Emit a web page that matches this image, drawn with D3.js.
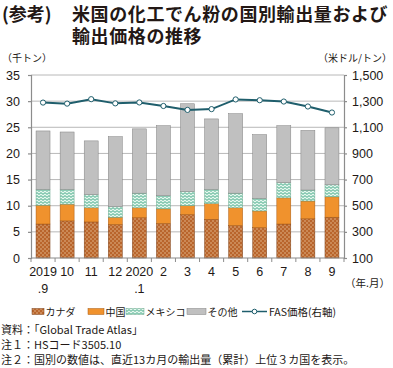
<!DOCTYPE html>
<html><head><meta charset="utf-8">
<script src="https://cdn.jsdelivr.net/npm/d3@7"></script>
<style>
body{margin:0;background:#fff;}
svg{display:block;font-family:"Noto Sans CJK JP","Noto Sans",sans-serif;}
</style></head>
<body><svg id="c" width="393" height="368"></svg>
<script>
const months = ["2019\n.9","10","11","12","2020\n.1","2","3","4","5","6","7","8","9"];
const canada = [6.5,7.1,6.9,6.4,7.7,6.6,8.3,7.4,6.2,5.8,6.5,7.5,7.8];
const china  = [3.6,3.2,2.7,1.4,1.9,2.8,1.7,3.0,3.4,3.2,5.0,3.4,3.9];
const mexico = [3.0,2.8,2.5,2.0,2.8,2.5,2.7,2.7,2.8,2.4,2.9,2.1,2.3];
const other  = [11.2,11.0,10.3,13.4,12.3,13.4,16.8,13.5,15.2,12.2,10.9,11.4,10.9];
const price  = [1289,1281,1315,1283,1290,1263,1233,1239,1313,1307,1297,1259,1213];
const leftTicks = [0,5,10,15,20,25,30,35];
const rightTicks = [100,300,500,700,900,1100,1300,1500];
const seriesNames = ["カナダ","中国","メキシコ","その他"];

const svg = d3.select("#c");
const defs = svg.append("defs");
const pc = defs.append("pattern").attr("id","pCan").attr("patternUnits","userSpaceOnUse").attr("width",4).attr("height",4);
pc.append("rect").attr("width",4).attr("height",4).attr("fill","#b9652c");
pc.append("circle").attr("cx",1).attr("cy",1).attr("r",0.7).attr("fill","#ecc9a0");
pc.append("circle").attr("cx",3).attr("cy",3).attr("r",0.7).attr("fill","#ecc9a0");
const pm = defs.append("pattern").attr("id","pMex").attr("patternUnits","userSpaceOnUse").attr("width",4).attr("height",3);
pm.append("rect").attr("width",4).attr("height",3).attr("fill","#e6f7ee");
pm.append("path").attr("d","M0,1.5 L1,0.6 L2,1.5 L3,2.4 L4,1.5").attr("stroke","#2f9f7a").attr("stroke-width",0.9).attr("fill","none");

const L=31, R=344, T=75, B=258;
const x = d3.scaleBand().domain(months).range([L,R]).paddingInner(0.42).paddingOuter(0.21);
const y = d3.scaleLinear().domain([0,35]).range([B,T]);
const y2 = d3.scaleLinear().domain([100,1500]).range([B,T]);

svg.append("g").selectAll("line").data(leftTicks.slice(1)).join("line")
  .attr("x1",L).attr("x2",R).attr("y1",d=>y(d)).attr("y2",d=>y(d))
  .attr("stroke","#a6a6a6").attr("stroke-width",0.8);

const rows = months.map((m,i)=>({m, カナダ:canada[i], 中国:china[i], メキシコ:mexico[i], その他:other[i]}));
const stack = d3.stack().keys(seriesNames)(rows);
const fills = {"カナダ":"url(#pCan)","中国":"#f0922d","メキシコ":"url(#pMex)","その他":"#c0c0c0"};
const strokes = {"カナダ":"#7a3f17","中国":"#a85a12","メキシコ":"#6aa78c","その他":"#808080"};
stack.forEach(s=>{
  svg.append("g").selectAll("rect").data(s).join("rect")
    .attr("x",d=>x(d.data.m)).attr("width",x.bandwidth())
    .attr("y",d=>y(d[1])).attr("height",d=>y(d[0])-y(d[1]))
    .attr("fill",fills[s.key]).attr("stroke",strokes[s.key]).attr("stroke-width",0.5);
});

const axL = svg.append("g").attr("transform",`translate(${L},0)`)
  .call(d3.axisLeft(y).tickValues(leftTicks).tickSize(3).tickPadding(8));
const axR = svg.append("g").attr("transform",`translate(${R},0)`)
  .call(d3.axisRight(y2).tickValues(rightTicks).tickFormat(d3.format(",")).tickSize(3).tickPadding(5));
[axL,axR].forEach(a=>{
  a.selectAll("path,line").attr("stroke","#8c8c8c").attr("stroke-width",1.2);
  a.selectAll("text").attr("font-family","Arial,'Liberation Sans',sans-serif").attr("font-size",12.5).attr("fill","#231815");
});
const axB = svg.append("g").attr("transform",`translate(0,${B})`);
axB.append("line").attr("x1",L).attr("x2",R).attr("stroke","#8c8c8c").attr("stroke-width",1.2);
axB.selectAll("line.t").data(d3.range(months.length+1)).join("line").attr("class","t")
  .attr("x1",i=>L+i*(R-L)/months.length).attr("x2",i=>L+i*(R-L)/months.length)
  .attr("y1",0).attr("y2",4).attr("stroke","#8c8c8c").attr("stroke-width",1);
const xl = axB.selectAll("text").data(months).join("text")
  .attr("text-anchor","middle").attr("font-family","Arial,'Liberation Sans',sans-serif").attr("font-size",12.5).attr("fill","#231815");
xl.each(function(d){
  const parts=d.split("\n"); const t=d3.select(this);
  parts.forEach((p,j)=>t.append("tspan").attr("x",x(d)+x.bandwidth()/2).attr("y",j===0?18:35).text(p));
});

const line = d3.line().x((d,i)=>x(months[i])+x.bandwidth()/2).y(d=>y2(d));
svg.append("path").datum(price).attr("d",line).attr("fill","none").attr("stroke","#1f5e6c").attr("stroke-width",2);
svg.append("g").selectAll("circle").data(price).join("circle")
  .attr("cx",(d,i)=>x(months[i])+x.bandwidth()/2).attr("cy",d=>y2(d)).attr("r",2.6)
  .attr("fill","#fff").attr("stroke","#1f5e6c").attr("stroke-width",1);

const tcol="#231815";
svg.append("text").attr("x",2).attr("y",21).attr("font-size",18).attr("font-weight","bold").attr("fill",tcol).text("(参考)");
const title = svg.append("text").attr("font-size",18).attr("letter-spacing",0.6).attr("font-weight","bold").attr("fill",tcol);
title.append("tspan").attr("x",72).attr("y",21).text("米国の化工でん粉の国別輸出量および");
title.append("tspan").attr("x",72).attr("y",43).text("輸出価格の推移");
svg.append("text").attr("x",2).attr("y",62).attr("font-size",10).attr("fill",tcol).text("（千トン）");
svg.append("text").attr("x",392).attr("y",62).attr("text-anchor","end").attr("font-size",10).attr("fill",tcol).text("（米ドル/トン）");
svg.append("text").attr("x",345).attr("y",287).attr("font-size",10.5).attr("fill",tcol).text("（年.月）");

const lg = svg.append("g").attr("font-size",10).attr("fill",tcol);
const items = [
  {k:"カナダ",x:32,w:12},{k:"中国",x:88,w:16},{k:"メキシコ",x:126,w:18},{k:"その他",x:187,w:19}
];
items.forEach(it=>{
  lg.append("rect").attr("x",it.x).attr("y",308.5).attr("width",it.w).attr("height",6)
    .attr("fill",fills[it.k]).attr("stroke",strokes[it.k]).attr("stroke-width",0.5);
  lg.append("text").attr("x",it.x+it.w+1.5).attr("y",316).text(it.k);
});
lg.append("line").attr("x1",242).attr("x2",267).attr("y1",311.5).attr("y2",311.5).attr("stroke","#1f5e6c").attr("stroke-width",1.5);
lg.append("circle").attr("cx",254.5).attr("cy",311.5).attr("r",2.3).attr("fill","#fff").attr("stroke","#1f5e6c").attr("stroke-width",1);
lg.append("text").attr("x",269).attr("y",316).attr("font-size",10.5).text("FAS価格(右軸)");

const notes = ["資料：「Global Trade Atlas」","注１：HSコード3505.10","注２：国別の数値は、直近13カ月の輸出量（累計）上位３カ国を表示。"];
svg.append("g").selectAll("text").data(notes).join("text")
  .attr("x",1).attr("y",(d,i)=>[334,349,364][i]).attr("font-size",11).attr("fill",tcol).text(d=>d);
</script></body></html>
